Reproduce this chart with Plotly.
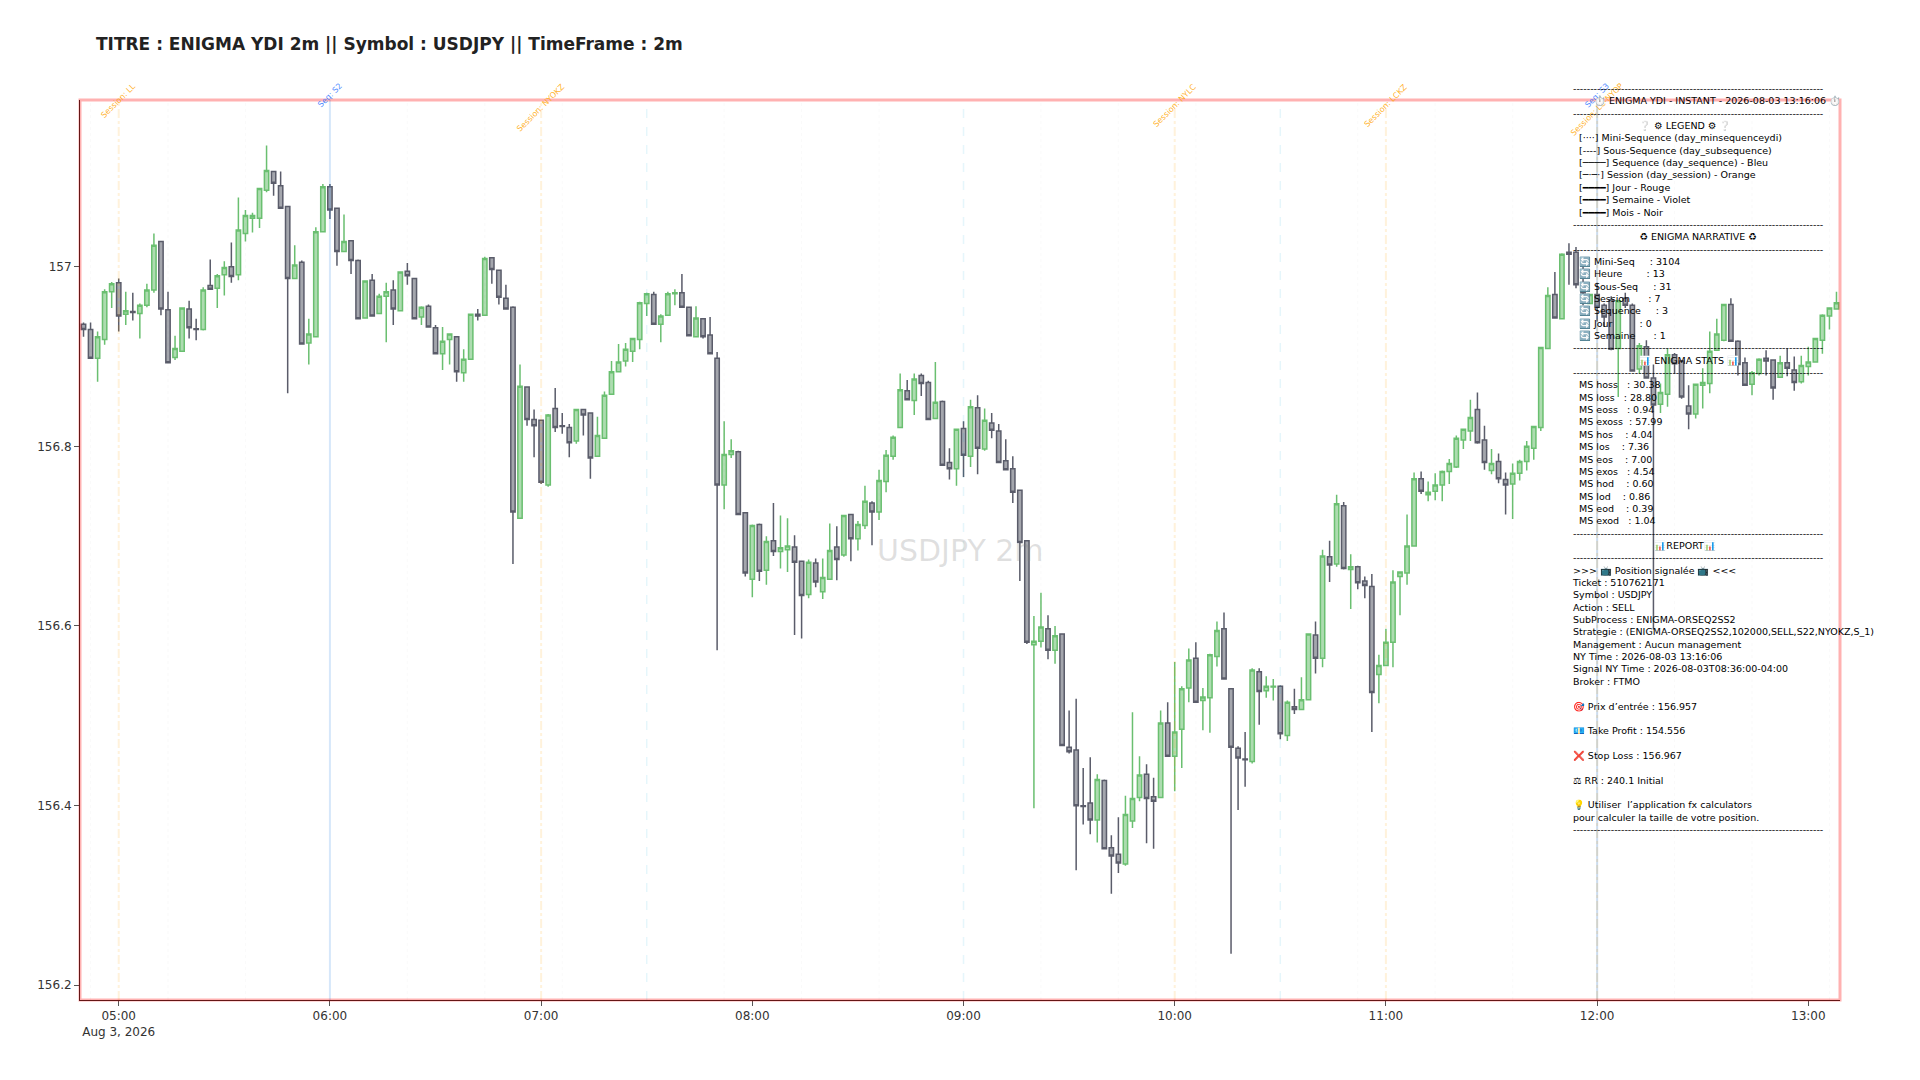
import pandas as pd
import plotly.graph_objects as go

START = "2026-08-03 04:50"
N_BARS = 250

OPEN = [
156.936,156.930,156.898,156.919,156.972,156.982,156.947,156.950,156.948,156.957,
156.974,157.028,156.952,156.899,156.906,156.953,156.931,156.930,156.979,156.976,
156.991,157.000,156.991,157.037,157.054,157.054,157.085,157.106,157.090,157.067,
156.987,157.005,156.915,156.922,157.039,157.089,157.065,157.017,157.029,157.007,
156.943,156.985,156.948,156.967,156.974,156.951,156.995,156.987,156.944,156.956,
156.932,156.903,156.919,156.922,156.882,156.897,156.947,156.946,157.010,156.996,
156.965,156.955,156.720,156.866,156.830,156.829,156.757,156.842,156.823,156.821,
156.806,156.841,156.837,156.789,156.809,156.858,156.883,156.895,156.906,156.919,
156.959,156.969,156.936,156.946,156.970,156.971,156.955,156.922,156.942,156.924,
156.898,156.757,156.791,156.794,156.726,156.652,156.713,156.662,156.695,156.683,
156.685,156.688,156.672,156.635,156.670,156.638,156.652,156.688,156.679,156.724,
156.697,156.712,156.737,156.727,156.761,156.789,156.821,156.862,156.851,156.879,
156.871,156.831,156.850,156.782,156.775,156.820,156.789,156.843,156.797,156.826,
156.817,156.784,156.775,156.751,156.695,156.579,156.583,156.597,156.573,156.591,
156.465,156.462,156.400,156.403,156.384,156.428,156.353,156.346,156.335,156.383,
156.409,156.435,156.410,156.409,156.492,156.455,156.485,156.531,156.564,156.517,
156.520,156.566,156.597,156.530,156.464,156.452,156.449,156.549,156.528,156.532,
156.533,156.478,156.510,156.507,156.518,156.590,156.564,156.677,156.669,156.734,
156.663,156.666,156.650,156.644,156.546,156.556,156.582,156.655,156.659,156.689,
156.764,156.746,156.750,156.757,156.772,156.777,156.807,156.817,156.841,156.807,
156.773,156.783,156.763,156.758,156.770,156.783,156.798,156.821,156.909,156.969,
156.942,157.016,157.016,156.977,156.959,156.969,156.957,156.963,156.909,156.965,
156.957,156.886,156.911,156.876,156.847,156.858,156.902,156.895,156.845,156.836,
156.868,156.870,156.907,156.918,156.958,156.917,156.893,156.869,156.881,156.898,
156.896,156.877,156.893,156.885,156.872,156.889,156.894,156.918,156.945,156.953,
]
HIGH = [
156.938,156.938,156.928,156.975,156.983,156.987,156.972,156.971,156.959,156.981,
157.037,157.029,156.972,156.923,156.955,156.962,156.942,156.977,157.008,156.992,
157.006,157.027,157.077,157.063,157.060,157.087,157.135,157.106,157.106,157.067,
157.024,157.007,156.942,157.044,157.092,157.092,157.065,157.058,157.029,157.008,
156.984,156.992,156.970,156.982,156.985,156.995,157.004,156.987,156.956,156.958,
156.935,156.933,156.926,156.922,156.908,156.947,156.953,157.011,157.010,156.996,
156.980,156.956,156.891,156.867,156.841,156.830,156.836,156.865,156.837,156.825,
156.841,156.841,156.838,156.833,156.861,156.895,156.914,156.915,156.921,156.961,
156.971,156.972,156.947,156.972,156.975,156.992,156.955,156.956,156.943,156.944,
156.905,156.828,156.808,156.795,156.726,156.713,156.714,156.700,156.737,156.723,
156.720,156.701,156.673,156.674,156.675,156.675,156.714,156.711,156.723,156.724,
156.717,156.756,156.739,156.774,156.796,156.812,156.881,156.874,156.881,156.881,
156.873,156.894,156.851,156.798,156.819,156.828,156.852,156.857,156.842,156.837,
156.825,156.808,156.789,156.751,156.695,156.611,156.637,156.612,156.600,156.592,
156.506,156.519,156.442,156.454,156.435,156.429,156.367,156.387,156.411,156.504,
156.455,156.446,156.431,156.506,156.515,156.560,156.533,156.575,156.582,156.531,
156.569,156.605,156.615,156.530,156.466,156.482,156.553,156.553,156.544,156.541,
156.534,156.517,156.530,156.543,156.591,156.605,156.685,156.695,156.746,156.738,
156.680,156.667,156.655,156.658,156.568,156.597,156.662,156.661,156.724,156.771,
156.772,156.761,156.770,156.773,156.786,156.812,156.820,156.852,156.860,156.823,
156.797,156.792,156.771,156.781,156.785,156.806,156.823,156.911,156.977,156.994,
157.015,157.026,157.022,157.000,156.970,156.982,156.959,156.967,156.963,156.971,
156.959,156.915,156.918,156.891,156.870,156.909,156.904,156.896,156.868,156.869,
156.887,156.928,156.942,156.958,156.965,156.918,156.899,156.884,156.898,156.907,
156.897,156.901,156.909,156.900,156.901,156.911,156.920,156.947,156.955,156.972,
]
LOW = [
156.922,156.898,156.872,156.913,156.954,156.928,156.935,156.940,156.920,156.955,
156.971,156.946,156.893,156.896,156.906,156.920,156.918,156.929,156.975,156.954,
156.968,156.982,156.985,157.028,157.038,157.043,157.083,157.079,157.065,156.859,
156.987,156.914,156.891,156.922,157.038,157.053,157.001,157.017,156.992,156.942,
156.943,156.945,156.948,156.916,156.935,156.951,156.980,156.942,156.935,156.933,
156.903,156.885,156.891,156.872,156.872,156.897,156.940,156.946,156.981,156.958,
156.953,156.669,156.720,156.823,156.788,156.758,156.755,156.816,156.814,156.788,
156.803,156.812,156.764,156.789,156.809,156.858,156.883,156.889,156.894,156.908,
156.945,156.936,156.916,156.946,156.957,156.955,156.923,156.922,156.920,156.903,
156.573,156.730,156.787,156.724,156.655,156.632,156.650,156.646,156.678,156.664,
156.660,156.590,156.586,156.631,156.643,156.630,156.652,156.651,156.677,156.672,
156.684,156.708,156.690,156.718,156.749,156.785,156.821,156.852,156.835,156.856,
156.829,156.831,156.779,156.763,156.756,156.766,156.777,156.769,156.795,156.809,
156.782,156.774,156.737,156.650,156.580,156.397,156.576,156.563,156.558,156.467,
156.458,156.328,156.379,156.368,156.359,156.352,156.302,156.325,156.333,156.375,
156.405,156.358,156.352,156.409,156.455,156.416,156.442,156.515,156.515,156.484,
156.481,156.555,156.541,156.235,156.395,156.421,156.447,156.490,156.520,156.517,
156.474,156.472,156.502,156.507,156.518,156.547,156.554,156.649,156.666,156.663,
156.619,156.641,156.631,156.482,156.514,156.556,156.554,156.612,156.646,156.689,
156.747,156.739,156.740,156.739,156.758,156.776,156.797,156.806,156.803,156.774,
156.769,156.759,156.724,156.719,156.762,156.773,156.785,156.817,156.909,156.943,
156.942,156.980,156.976,156.957,156.959,156.939,156.933,156.907,156.855,156.954,
156.884,156.881,156.876,156.596,156.837,156.844,156.881,156.853,156.819,156.831,
156.842,156.859,156.907,156.917,156.917,156.879,156.868,156.857,156.879,156.879,
156.852,156.877,156.878,156.862,156.870,156.879,156.894,156.903,156.930,156.953,
]
CLOSE = [
156.930,156.898,156.922,156.972,156.981,156.945,156.951,156.949,156.957,156.974,
157.024,156.953,156.893,156.909,156.954,156.932,156.930,156.974,156.975,156.990,
156.999,156.989,157.041,157.057,157.057,157.087,157.107,157.093,157.065,156.987,
157.002,156.914,156.925,157.039,157.089,157.063,157.017,157.028,157.007,156.942,
156.984,156.945,156.967,156.972,156.953,156.994,156.990,156.942,156.955,156.933,
156.903,156.917,156.925,156.883,156.897,156.947,156.945,157.009,156.997,156.966,
156.953,156.727,156.867,156.830,156.823,156.760,156.835,156.821,156.822,156.804,
156.841,156.835,156.787,156.812,156.857,156.883,156.894,156.908,156.920,156.960,
156.970,156.936,156.945,156.970,156.971,156.955,156.923,156.943,156.922,156.903,
156.757,156.791,156.795,156.724,156.659,156.712,156.661,156.694,156.683,156.687,
156.689,156.671,156.634,156.671,156.649,156.654,156.684,156.674,156.723,156.697,
156.713,156.739,156.727,156.762,156.790,156.810,156.863,156.852,156.875,156.870,
156.830,156.849,156.779,156.775,156.819,156.790,156.844,156.798,156.829,156.818,
156.782,156.774,156.749,156.693,156.582,156.583,156.599,156.573,156.589,156.467,
156.460,156.400,156.399,156.384,156.429,156.352,156.344,156.336,156.390,156.408,
156.434,156.408,156.405,156.492,156.455,156.482,156.530,156.562,156.515,156.521,
156.568,156.595,156.541,156.465,156.453,156.451,156.551,156.527,156.533,156.533,
156.480,156.515,156.507,156.518,156.591,156.564,156.678,156.668,156.736,156.664,
156.666,156.648,156.645,156.526,156.556,156.582,156.649,156.660,156.689,156.764,
156.750,156.749,156.757,156.772,156.781,156.809,156.819,156.832,156.804,156.782,
156.781,156.764,156.757,156.770,156.783,156.800,156.822,156.910,156.968,156.943,
157.014,157.014,156.980,156.971,156.969,156.955,156.944,156.908,156.962,156.957,
156.884,156.912,156.876,156.846,156.860,156.902,156.892,156.855,156.836,156.869,
156.871,156.906,156.925,156.958,156.917,156.891,156.868,156.882,156.897,156.895,
156.865,156.893,156.887,156.871,156.890,156.894,156.920,156.946,156.954,156.960,
]

Y_RANGE = [156.1836, 157.1856]
Y_TICKS = [156.2, 156.4, 156.6, 156.8, 157]
Y_LABELS = ["156.2", "156.4", "156.6", "156.8", "157"]

DAY = "2026-08-03 "
SESSION_TIMES = ["05:00", "07:00", "10:00", "11:00", "12:00"]
SESSION_NAMES = ["Session: LL", "Session: NYOKZ", "Session: NYLC", "Session: LCKZ", "Session: LC-NYOP"]
SEQ_TIMES = ["06:00", "12:00"]
SEQ_NAMES = ["Seq: S2", "Seq: S3"]
SUBSEQ_TIMES = ["07:30", "09:00", "10:30"]
MINI_TIMES = ["04:52", "05:14", "05:36", "06:22", "06:44", "07:06", "07:52", "08:14", "08:36",
              "09:22", "09:44", "10:06", "10:52", "11:14", "11:36", "12:22", "12:44", "13:06"]

DASHES = "-" * 73
PANEL_LINES = [
    DASHES,
    "       ⏱️ ENIGMA YDI - INSTANT - 2026-08-03 13:16:06 ⏱️",
    DASHES,
    "                      ❔ ⚙ LEGEND ⚙ ❔",
    "  [····] Mini-Sequence (day_minsequenceydi)",
    "  [----] Sous-Sequence (day_subsequence)",
    "  [────] Sequence (day_sequence) - Bleu",
    "  [─·─·] Session (day_session) - Orange",
    "  [━━━━] Jour - Rouge",
    "  [━━━━] Semaine - Violet",
    "  [━━━━] Mois - Noir",
    DASHES,
    "                      ♻ ENIGMA NARRATIVE ♻",
    DASHES,
    "  🔄 Mini-Seq     : 3104",
    "  🔄 Heure        : 13",
    "  🔄 Sous-Seq     : 31",
    "  🔄 Session      : 7",
    "  🔄 Sequence     : 3",
    "  🔄 Jour         : 0",
    "  🔄 Semaine      : 1",
    DASHES,
    "                      📊 ENIGMA STATS 📊",
    DASHES,
    "  MS hoss   : 30.38",
    "  MS loss   : 28.80",
    "  MS eoss   : 0.94",
    "  MS exoss  : 57.99",
    "  MS hos    : 4.04",
    "  MS los    : 7.36",
    "  MS eos    : 7.00",
    "  MS exos   : 4.54",
    "  MS hod    : 0.60",
    "  MS lod    : 0.86",
    "  MS eod    : 0.39",
    "  MS exod   : 1.04",
    DASHES,
    "                           📊REPORT📊",
    DASHES,
    ">>> 📺 Position signalée 📺 <<<",
    "Ticket : 510762171",
    "Symbol : USDJPY",
    "Action : SELL",
    "SubProcess : ENIGMA-ORSEQ2SS2",
    "Strategie : (ENIGMA-ORSEQ2SS2,102000,SELL,S22,NYOKZ,S_1)",
    "Management : Aucun management",
    "NY Time : 2026-08-03 13:16:06",
    "Signal NY Time : 2026-08-03T08:36:00-04:00",
    "Broker : FTMO",
    " ",
    "🎯 Prix d’entrée : 156.957",
    " ",
    "💶 Take Profit : 154.556",
    " ",
    "❌ Stop Loss : 156.967",
    " ",
    "⚖ RR : 240.1 Initial",
    " ",
    "💡 Utiliser  l’application fx calculators",
    "pour calculer la taille de votre position.",
    DASHES,
]

FONT = "DejaVu Sans"
times = pd.date_range(START, periods=N_BARS, freq="2min")

fig = go.Figure(go.Candlestick(
    x=times, open=OPEN, high=HIGH, low=LOW, close=CLOSE,
    increasing=dict(line=dict(color="#6abf70", width=1.5), fillcolor="rgba(106,191,112,0.55)"),
    decreasing=dict(line=dict(color="#5a5c6a", width=1.5), fillcolor="rgba(90,92,106,0.55)"),
    showlegend=False,
))

def vline(t, color, width, dash):
    fig.add_shape(type="line", xref="x", yref="paper", x0=DAY + t, x1=DAY + t, y0=0, y1=1,
                  line=dict(color=color, width=width, dash=dash))

for t in MINI_TIMES:
    vline(t, "rgba(120,120,120,0.04)", 1, "dot")
for t in SUBSEQ_TIMES:
    vline(t, "rgba(0,170,220,0.10)", 1.5, "dash")
for t in SEQ_TIMES:
    vline(t, "rgba(30,120,230,0.18)", 2, "solid")
for t in SESSION_TIMES:
    vline(t, "rgba(255,165,0,0.14)", 2, "dashdot")
vline("12:00", "rgba(90,90,90,0.08)", 2, "solid")

fig.add_shape(type="rect", xref="paper", yref="paper", x0=0, x1=1, y0=0, y1=1,
              line=dict(color="red", width=3), opacity=0.3)

for t, name in zip(SESSION_TIMES, SESSION_NAMES):
    fig.add_annotation(x=DAY + t, xref="x", y=1.0234, yref="paper", text=name, showarrow=False,
                       textangle=-45, xanchor="center", yanchor="top",
                       font=dict(family=FONT, size=8, color="rgba(255,165,0,0.85)"))
for t, name in zip(SEQ_TIMES, SEQ_NAMES):
    fig.add_annotation(x=DAY + t, xref="x", y=1.0234, yref="paper", text=name, showarrow=False,
                       textangle=-45, xanchor="center", yanchor="top",
                       font=dict(family=FONT, size=8, color="rgba(30,110,255,0.8)"))

fig.add_annotation(x=0.5, y=0.5, xref="paper", yref="paper", text="USDJPY 2m", showarrow=False,
                   font=dict(family=FONT, size=30, color="rgba(128,128,128,0.25)"))

fig.add_annotation(x=(1569.5 - 80) / 1760, y=(1000 - 81) / 900, xref="paper", yref="paper",
                   xanchor="left", yanchor="top", align="left", showarrow=False,
                   text="<br>".join(PANEL_LINES),
                   font=dict(family=FONT + ", Noto Color Emoji", size=9.5, color="black"))

fig.update_layout(
    template="plotly_white",
    title=dict(text="<b>TITRE : ENIGMA YDI 2m || Symbol : USDJPY || TimeFrame : 2m</b>",
               x=(96 - 8) / 1904, xanchor="left", y=1 - 36 / 1064, yanchor="middle",
               font=dict(family=FONT, size=17, color="#222222")),
    font=dict(family=FONT, size=12, color="#333333"),
    margin=dict(l=72, r=72, t=92, b=72),
    boxgap=0.12,
    plot_bgcolor="white",
    paper_bgcolor="white",
    showlegend=False,
    xaxis=dict(rangeslider=dict(visible=False), showgrid=False, zeroline=False,
               showline=True, linecolor="#222222", linewidth=1,
               ticks="outside", ticklen=5, tickcolor="#555555", dtick=3600000,
               tickformat="%H:%M\n%b %-d, %Y"),
    yaxis=dict(range=Y_RANGE, tickvals=Y_TICKS, ticktext=Y_LABELS, showgrid=False, zeroline=False,
               showline=True, linecolor="#222222", linewidth=1,
               ticks="outside", ticklen=5, tickcolor="#555555"),
)

fig.write_html("out.html")
